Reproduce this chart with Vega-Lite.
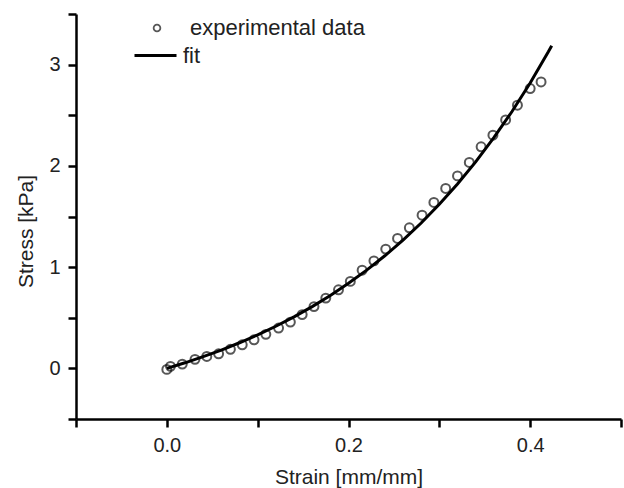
{
  "$schema": "https://vega.github.io/schema/vega-lite/v6.json",
  "width": 545,
  "height": 405,
  "autosize": {"type": "none"},
  "padding": {"left": 76, "top": 14, "right": 3, "bottom": 69},
  "background": "white",
  "config": {"view": {"stroke": null}, "font": "Liberation Sans"},
  "datasets": {
    "exp": [
      {"series": "experimental data", "x": 0.000, "y": -0.01},
      {"series": "experimental data", "x": 0.004, "y": 0.02},
      {"series": "experimental data", "x": 0.017, "y": 0.042},
      {"series": "experimental data", "x": 0.031, "y": 0.089},
      {"series": "experimental data", "x": 0.044, "y": 0.118},
      {"series": "experimental data", "x": 0.057, "y": 0.144},
      {"series": "experimental data", "x": 0.070, "y": 0.188},
      {"series": "experimental data", "x": 0.083, "y": 0.233},
      {"series": "experimental data", "x": 0.096, "y": 0.282},
      {"series": "experimental data", "x": 0.109, "y": 0.336},
      {"series": "experimental data", "x": 0.123, "y": 0.398},
      {"series": "experimental data", "x": 0.136, "y": 0.457},
      {"series": "experimental data", "x": 0.149, "y": 0.531},
      {"series": "experimental data", "x": 0.162, "y": 0.610},
      {"series": "experimental data", "x": 0.175, "y": 0.694},
      {"series": "experimental data", "x": 0.189, "y": 0.776},
      {"series": "experimental data", "x": 0.202, "y": 0.859},
      {"series": "experimental data", "x": 0.215, "y": 0.970},
      {"series": "experimental data", "x": 0.228, "y": 1.062},
      {"series": "experimental data", "x": 0.241, "y": 1.178},
      {"series": "experimental data", "x": 0.254, "y": 1.283},
      {"series": "experimental data", "x": 0.267, "y": 1.388},
      {"series": "experimental data", "x": 0.281, "y": 1.513},
      {"series": "experimental data", "x": 0.294, "y": 1.639},
      {"series": "experimental data", "x": 0.307, "y": 1.777},
      {"series": "experimental data", "x": 0.320, "y": 1.901},
      {"series": "experimental data", "x": 0.333, "y": 2.034},
      {"series": "experimental data", "x": 0.346, "y": 2.188},
      {"series": "experimental data", "x": 0.359, "y": 2.303},
      {"series": "experimental data", "x": 0.373, "y": 2.454},
      {"series": "experimental data", "x": 0.386, "y": 2.599},
      {"series": "experimental data", "x": 0.400, "y": 2.764},
      {"series": "experimental data", "x": 0.412, "y": 2.829}
    ],
    "fit": [
      {"series": "fit", "x": 0.00, "y": 0.0},
      {"series": "fit", "x": 0.02, "y": 0.055},
      {"series": "fit", "x": 0.04, "y": 0.116},
      {"series": "fit", "x": 0.06, "y": 0.181},
      {"series": "fit", "x": 0.08, "y": 0.253},
      {"series": "fit", "x": 0.10, "y": 0.331},
      {"series": "fit", "x": 0.12, "y": 0.416},
      {"series": "fit", "x": 0.14, "y": 0.509},
      {"series": "fit", "x": 0.16, "y": 0.610},
      {"series": "fit", "x": 0.18, "y": 0.720},
      {"series": "fit", "x": 0.20, "y": 0.840},
      {"series": "fit", "x": 0.22, "y": 0.970},
      {"series": "fit", "x": 0.24, "y": 1.112},
      {"series": "fit", "x": 0.26, "y": 1.267},
      {"series": "fit", "x": 0.28, "y": 1.436},
      {"series": "fit", "x": 0.30, "y": 1.620},
      {"series": "fit", "x": 0.32, "y": 1.821},
      {"series": "fit", "x": 0.34, "y": 2.039},
      {"series": "fit", "x": 0.36, "y": 2.278},
      {"series": "fit", "x": 0.38, "y": 2.537},
      {"series": "fit", "x": 0.40, "y": 2.819},
      {"series": "fit", "x": 0.42, "y": 3.127},
      {"series": "fit", "x": 0.4237, "y": 3.187}
    ]
  },
  "encoding": {
    "x": {
      "field": "x", "type": "quantitative",
      "scale": {"domain": [-0.1, 0.5], "nice": false, "zero": false},
      "axis": {
        "title": "Strain [mm/mm]",
        "values": [-0.1, 0, 0.1, 0.2, 0.3, 0.4, 0.5],
        "labelExpr": "(abs(datum.value) < 1e-9 || abs(datum.value - 0.2) < 1e-9 || abs(datum.value - 0.4) < 1e-9) ? format(datum.value, '.1f') : ''",
        "grid": false,
        "domainColor": "black", "domainWidth": 2.5,
        "tickColor": "black", "tickWidth": 2.5, "tickSize": 8,
        "labelPadding": 8, "labelFontSize": 20, "labelColor": "#222", "labelFont": "Liberation Sans",
        "labelFlush": false, "labelOverlap": false,
        "titleFontSize": 21, "titleFontWeight": "normal", "titleColor": "#222", "titleFont": "Liberation Sans",
        "titleX": 272.5, "titleY": 64, "titleAlign": "center", "titleBaseline": "alphabetic"
      }
    },
    "y": {
      "field": "y", "type": "quantitative",
      "scale": {"domain": [-0.5, 3.5], "nice": false, "zero": false},
      "axis": {
        "title": "Stress [kPa]",
        "values": [-0.5, 0, 0.5, 1, 1.5, 2, 2.5, 3, 3.5],
        "labelExpr": "(datum.value % 1 == 0 && datum.value >= 0 && datum.value <= 3) ? format(datum.value, 'd') : ''",
        "grid": false,
        "domainColor": "black", "domainWidth": 2.5,
        "tickColor": "black", "tickWidth": 2.5, "tickSize": 8,
        "labelPadding": 8, "labelFontSize": 20, "labelColor": "#222", "labelFont": "Liberation Sans",
        "labelFlush": false, "labelOverlap": false,
        "titleFontSize": 21, "titleFontWeight": "normal", "titleColor": "#222", "titleFont": "Liberation Sans",
        "titleAngle": -90, "titleX": -44, "titleY": 217, "titleAlign": "center", "titleBaseline": "alphabetic"
      }
    }
  },
  "layer": [
    {
      "data": {"name": "exp"},
      "mark": {"type": "point", "shape": "circle", "filled": false, "size": 80, "strokeWidth": 2, "color": "#111"},
      "encoding": {
        "shape": {
          "field": "series", "type": "nominal",
          "scale": {"domain": ["experimental data"], "range": ["circle"]},
          "legend": {
            "orient": "none", "legendX": 70, "legendY": 3, "title": null, "padding": 0,
            "symbolSize": 45, "symbolStrokeWidth": 1.8, "symbolStrokeColor": "#111", "symbolFillColor": "transparent",
            "labelFontSize": 22, "labelOffset": 22, "labelLimit": 0, "labelColor": "#222", "labelFont": "Liberation Sans"
          }
        }
      }
    },
    {
      "data": {"name": "fit"},
      "mark": {"type": "line", "strokeWidth": 3, "color": "black"},
      "encoding": {
        "color": {
          "field": "series", "type": "nominal",
          "scale": {"domain": ["fit"], "range": ["black"]},
          "legend": {
            "orient": "none", "legendX": 57, "legendY": 19, "title": null, "padding": 0,
            "symbolType": "stroke", "symbolSize": 1764, "symbolStrokeWidth": 3, "symbolStrokeColor": "black",
            "labelFontSize": 22, "labelOffset": 5, "labelLimit": 0, "labelColor": "#222", "labelFont": "Liberation Sans"
          }
        }
      }
    }
  ]
}
